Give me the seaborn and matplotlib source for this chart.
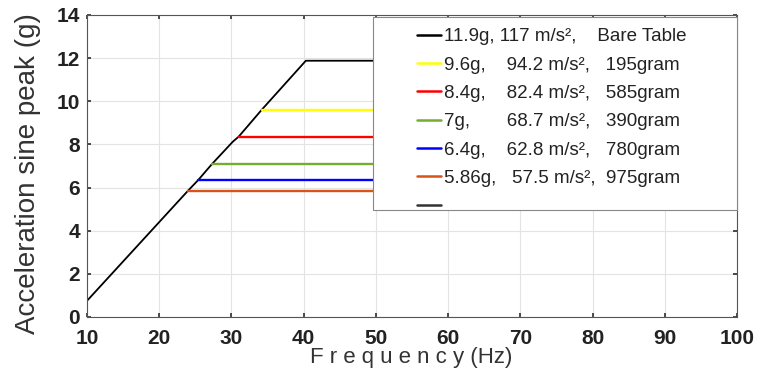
import matplotlib
matplotlib.use("Agg")
import matplotlib.pyplot as plt
from matplotlib.patches import Rectangle
import seaborn as sns
import pandas as pd

# Data
ramp_freq = [10, 24.0, 25.4, 27.3, 30.2, 31.0, 34.2, 40.3, 100]
ramp_acc = [0.75, 5.86, 6.35, 7.09, 8.13, 8.36, 9.61, 11.88, 11.88]

level_names = ["9.6g", "8.4g", "7g", "6.4g", "5.86g"]
level_start = [34.2, 31.0, 27.3, 25.4, 24.0]
level_acc = [9.61, 8.36, 7.09, 6.35, 5.86]
level_colors = ["#FFFF00", "#FF0000", "#77AC30", "#0000FF", "#D95319"]

legend_labels = [
    "11.9g, 117 m/s²,    Bare Table",
    "9.6g,    94.2 m/s²,   195gram",
    "8.4g,    82.4 m/s²,   585gram",
    "7g,       68.7 m/s²,   390gram",
    "6.4g,    62.8 m/s²,   780gram",
    "5.86g,   57.5 m/s²,  975gram",
    " ",
]

x_ticks = [10, 20, 30, 40, 50, 60, 70, 80, 90, 100]
y_ticks = [0, 2, 4, 6, 8, 10, 12, 14]

sns.set_theme(style="white")
plt.rcParams["font.family"] = ["Liberation Sans", "DejaVu Sans"]

W, H = 757, 373
fig = plt.figure(figsize=(W / 100, H / 100), dpi=100)
AX_L, AX_R, AX_T, AX_B = 87, 737, 15, 317
ax = fig.add_axes([AX_L / W, (H - AX_B) / H, (AX_R - AX_L) / W, (AX_B - AX_T) / H])


def ax_frac(px, py):
    return (px - AX_L) / (AX_R - AX_L), (AX_B - py) / (AX_B - AX_T)


handles = []
ramp_df = pd.DataFrame({"f": ramp_freq, "a": ramp_acc})
sns.lineplot(data=ramp_df, x="f", y="a", ax=ax, color="black", lw=1.3,
             sort=False, estimator=None)
handles.append(plt.Line2D([], [], color="black", lw=1.8))

for name, s, a, c in zip(level_names, level_start, level_acc, level_colors):
    df = pd.DataFrame({"f": [s, 100], "a": [a, a]})
    sns.lineplot(data=df, x="f", y="a", ax=ax, color=c, lw=1.7,
                 estimator=None)
    handles.append(plt.Line2D([], [], color=c, lw=1.8))
handles.append(plt.Line2D([], [], color="#333333", lw=1.8))

ax.set_xlim(10, 100)
ax.set_ylim(0, 14)
ax.set_xticks(x_ticks)
ax.set_yticks(y_ticks)
ax.set_xticklabels([str(v) for v in x_ticks], fontweight="bold", fontsize=15,
                   color="#222222")
ax.set_yticklabels([str(v) for v in y_ticks], fontweight="bold", fontsize=15,
                   color="#222222")
ax.grid(True, color="#E3E3E3", lw=0.8)
ax.tick_params(direction="in", length=3, color="#333333",
               top=True, right=True, bottom=True, left=True)
ax.tick_params(axis="x", pad=9)
ax.tick_params(axis="y", pad=5)
for sp in ax.spines.values():
    sp.set_color("#555555")
    sp.set_linewidth(0.8)

ax.set_xlabel("F r e q u e n c y (Hz)", fontsize=16, color="#333333")
ax.set_ylabel("Acceleration sine peak (g)", fontsize=20, color="#333333")
ax.xaxis.set_label_coords(*ax_frac(411, 347))
ax.yaxis.set_label_coords(*ax_frac(41, 174))

# legend box (white, grey border) spanning the reference's legend area
x0, y0 = ax_frac(373, 210)
x1, y1 = ax_frac(737, 17)
ax.add_patch(Rectangle((x0, y0), x1 - x0, y1 - y0, transform=ax.transAxes,
                       facecolor="white", edgecolor="#888888", lw=0.8,
                       zorder=4, clip_on=False))

leg = ax.legend(handles, legend_labels, loc="upper left",
                bbox_to_anchor=ax_frac(417, 28),
                fontsize=13.5, frameon=False,
                handlelength=1.3, handletextpad=0.12, labelspacing=0.6,
                borderpad=0, borderaxespad=0)
leg.set_zorder(6)
for t in leg.get_texts():
    t.set_color("#222222")

fig.savefig("out.png", dpi=100)
